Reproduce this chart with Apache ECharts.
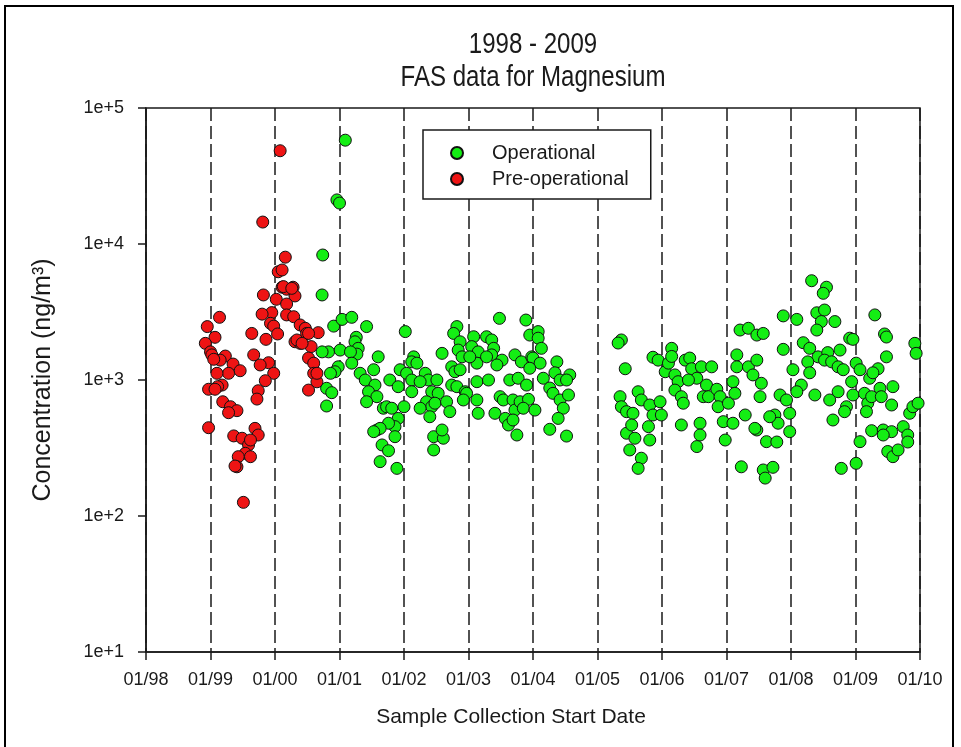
<!DOCTYPE html>
<html>
<head>
<meta charset="utf-8">
<title>FAS data for Magnesium</title>
<script src="https://cdn.jsdelivr.net/npm/echarts@6/dist/echarts.min.js"></script>
<style>
  html, body { margin: 0; padding: 0; background: #fff; }
  #chart { width: 961px; height: 747px; }
</style>
</head>
<body>
<div id="chart"></div>
<script>
// Axis tick labels
const xTickLabels = ['01/98', '01/99', '01/00', '01/01', '01/02', '01/03', '01/04',
                     '01/05', '01/06', '01/07', '01/08', '01/09', '01/10'];
const yTickLabels = ['1e+1', '1e+2', '1e+3', '1e+4', '1e+5'];
const seriesNames = ['Operational', 'Pre-operational'];
const titleLines = ['1998 - 2009', 'FAS data for Magnesium'];

// Pre-operational samples: [decimal year, concentration ng/m3]
const preOperational = [
  [2000.08, 48500], [1999.81, 14500], [2000.16, 8000], [2000.05, 6250], [2000.11, 4810],
  [2000.18, 4650], [2000.28, 4810], [2000.31, 4150], [1999.82, 4220], [2000.02, 3920],
  [2000.18, 3620], [1999.95, 3130], [1999.80, 3050], [2000.18, 3010], [2000.29, 2920],
  [1999.14, 2890], [1998.95, 2470], [1999.93, 2610], [1999.98, 2490], [2000.39, 2540],
  [2000.47, 2400], [2000.49, 2200], [2000.67, 2230], [1999.64, 2200], [2000.04, 2180],
  [1999.07, 2060], [1999.86, 1990], [1998.92, 1860], [2000.31, 1910], [2000.39, 1860],
  [2000.56, 1760], [1999.00, 1610], [1999.02, 1530], [1999.23, 1500], [1999.15, 1400],
  [1999.05, 1420], [1999.67, 1530], [2000.52, 1450], [2000.60, 1330], [1999.35, 1310],
  [1999.46, 1170], [1999.28, 1120], [1999.90, 1340], [1999.77, 1290], [1999.10, 1120],
  [1999.98, 1120], [2000.60, 1120], [2000.65, 970], [1999.85, 988], [1999.18, 918],
  [1999.11, 893], [1998.97, 855], [1999.07, 855], [2000.52, 843], [1999.74, 834],
  [1999.72, 724], [1999.19, 692], [1999.31, 636], [1999.41, 595], [1999.28, 575],
  [1998.97, 446], [1999.69, 441], [1999.74, 394], [1999.36, 388], [1999.49, 373],
  [1999.59, 333], [1999.62, 362], [1999.54, 289], [1999.43, 273], [1999.41, 230],
  [1999.38, 233], [1999.62, 273], [1999.51, 126], [2000.11, 6440], [2000.13, 4860],
  [2000.26, 4720], [2000.34, 1970], [2000.42, 1860], [2000.52, 2200], [2000.65, 1120]
];

// Operational samples: [decimal year, concentration ng/m3]
const operational = [
  [2001.09, 58000], [2000.96, 21100], [2001.00, 20000], [2000.74, 8300], [2000.73, 4220],
  [2000.91, 2490], [2001.04, 2790], [2001.19, 2890], [2001.42, 2470], [2001.26, 2060],
  [2001.24, 1910], [2001.29, 1710], [2001.27, 1550], [2000.83, 1610], [2000.73, 1610],
  [2001.01, 1660], [2001.17, 1610], [2000.98, 1250], [2000.93, 1150], [2000.86, 1120],
  [2001.19, 1330], [2000.80, 869], [2000.88, 807], [2000.80, 644], [2001.32, 1120],
  [2001.40, 1000], [2001.53, 1190], [2001.60, 1480], [2001.55, 918], [2001.45, 820],
  [2001.58, 754], [2001.42, 692], [2001.78, 1000], [2001.91, 893], [2001.68, 620],
  [2001.73, 636], [2001.81, 620], [2002.02, 2270], [2001.94, 1190], [2002.04, 1120],
  [2002.12, 1000], [2002.00, 636], [2001.91, 522], [2001.86, 454], [2001.76, 481],
  [2001.58, 429], [2001.63, 441], [2001.53, 417], [2001.86, 383], [2001.66, 333],
  [2001.76, 302], [2001.63, 251], [2001.89, 224], [2002.15, 1480], [2002.12, 1360],
  [2002.20, 1330], [2002.12, 820], [2002.33, 1120], [2002.38, 1000], [2002.51, 1000],
  [2002.25, 972], [2002.43, 820], [2002.53, 798], [2002.35, 692], [2002.43, 636],
  [2002.48, 675], [2002.66, 692], [2002.71, 585], [2002.40, 537], [2002.25, 620],
  [2002.46, 383], [2002.61, 373], [2002.59, 429], [2002.46, 306], [2002.59, 1570],
  [2002.82, 2470], [2002.77, 2200], [2002.87, 1910], [2002.84, 1660], [2002.90, 1480],
  [2002.74, 1250], [2002.79, 1150], [2002.87, 1190], [2002.74, 918], [2002.82, 893],
  [2002.95, 820], [2002.97, 798], [2003.08, 2080], [2003.05, 1760], [2003.15, 1610],
  [2003.13, 1330], [2003.13, 972], [2003.13, 713], [2003.15, 569], [2002.92, 713],
  [2003.02, 1480], [2003.31, 1000], [2003.28, 2080], [2003.36, 1970], [2003.39, 1710],
  [2003.36, 1530], [2003.28, 1480], [2003.52, 1400], [2003.44, 1290], [2003.48, 2840],
  [2003.41, 569], [2003.49, 754], [2003.54, 713], [2003.57, 522], [2003.62, 467],
  [2003.64, 1000], [2003.77, 1030], [2003.69, 713], [2003.72, 601], [2003.69, 508],
  [2003.75, 394], [2003.72, 1530], [2003.82, 1360], [2003.90, 918], [2003.80, 692],
  [2003.93, 721], [2003.85, 620], [2004.03, 601], [2003.89, 2760], [2003.95, 2140],
  [2004.08, 2270], [2004.08, 2030], [2004.13, 1710], [2003.98, 1480], [2004.00, 1450],
  [2004.11, 1330], [2003.95, 1220], [2004.16, 1030], [2004.26, 873], [2004.31, 798],
  [2004.42, 713], [2004.47, 620], [2004.37, 1360], [2004.34, 1130], [2004.42, 1000],
  [2004.57, 1090], [2004.52, 1000], [2004.55, 776], [2004.39, 522], [2004.26, 434],
  [2004.52, 387],
  [2005.37, 1970], [2005.32, 1870], [2005.43, 1210], [2005.86, 1470], [2005.94, 1400],
  [2005.35, 754], [2005.37, 636], [2005.45, 585], [2005.55, 569], [2005.63, 820],
  [2005.68, 713], [2005.45, 406], [2005.53, 467], [2005.58, 373], [2005.50, 306],
  [2005.68, 266], [2005.63, 224], [2005.81, 655], [2005.86, 553], [2005.79, 454],
  [2005.81, 362], [2005.97, 692], [2005.99, 553], [2006.05, 1150], [2006.10, 1330],
  [2006.15, 1710], [2006.15, 1490], [2006.20, 1090], [2006.25, 972], [2006.20, 843],
  [2006.30, 754], [2006.33, 675], [2006.36, 1400], [2006.43, 1450], [2006.46, 1210],
  [2006.54, 1030], [2006.41, 1000], [2006.61, 1250], [2006.77, 1250], [2006.30, 467],
  [2006.59, 481], [2006.59, 394], [2006.54, 324], [2006.69, 918], [2006.64, 754],
  [2006.72, 754], [2006.85, 855], [2006.90, 754], [2006.87, 636], [2007.03, 675],
  [2006.95, 494], [2006.98, 362], [2007.10, 481], [2007.21, 2330], [2007.34, 2400],
  [2007.47, 2140], [2007.57, 2200], [2007.16, 1530], [2007.16, 1250], [2007.34, 1250],
  [2007.41, 1090], [2007.47, 1400], [2007.10, 972], [2007.13, 798], [2007.54, 946],
  [2007.52, 754], [2007.29, 553], [2007.47, 429], [2007.62, 352], [2007.23, 230],
  [2007.57, 218], [2007.60, 190],
  [2008.32, 5370], [2008.55, 4810], [2008.50, 4340], [2007.88, 2960], [2008.09, 2790],
  [2008.40, 3120], [2008.52, 3270], [2008.47, 2690], [2008.68, 2690], [2008.40, 2330],
  [2007.88, 1680], [2008.19, 1880], [2008.29, 1710], [2008.42, 1480], [2008.57, 1590],
  [2008.76, 1660], [2008.26, 1360], [2008.29, 1130], [2008.03, 1190], [2008.16, 918],
  [2008.52, 1400], [2008.63, 1360], [2008.73, 1250], [2008.81, 1190],
  [2007.83, 776], [2007.93, 713], [2008.09, 820], [2007.98, 569], [2007.75, 553],
  [2007.80, 481], [2007.98, 417], [2007.67, 537], [2007.44, 441], [2007.78, 350],
  [2007.72, 228],
  [2008.37, 776], [2008.60, 713], [2008.73, 820], [2008.86, 636], [2008.83, 585],
  [2008.65, 508], [2008.78, 224], [2008.91, 2030], [2008.96, 1990], [2008.94, 972],
  [2008.96, 776], [2009.01, 1330], [2009.07, 1190], [2009.14, 798], [2009.19, 675],
  [2009.17, 585], [2009.25, 754], [2009.22, 1030], [2009.35, 1210], [2009.27, 1130],
  [2009.07, 352], [2009.01, 244], [2009.30, 3010], [2009.45, 2180], [2009.48, 2070],
  [2009.48, 1480], [2009.38, 869], [2009.40, 754], [2009.58, 893], [2009.56, 655],
  [2009.25, 424], [2009.43, 429], [2009.56, 417], [2009.43, 394], [2009.50, 298],
  [2009.58, 273], [2009.66, 306], [2009.74, 454], [2009.81, 394], [2009.81, 350],
  [2009.84, 569], [2009.89, 636], [2009.97, 675], [2009.92, 1860], [2009.94, 1570]
];

const FONT = '"Liberation Sans", Arial, Helvetica, sans-serif';
const INK = '#1a1a1a';

// Narrow two-line heading: regular face squeezed horizontally about its centre
function titleLine(text, y) {
  return {
    type: 'text',
    silent: true,
    x: 533,
    y: y,
    scaleX: 0.83,
    style: {
      text: text,
      align: 'center',
      verticalAlign: 'middle',
      fontFamily: FONT,
      fontSize: 29,
      fill: INK
    }
  };
}

const chart = echarts.init(document.getElementById('chart'), null, { renderer: 'canvas' });

chart.setOption({
  backgroundColor: '#fff',
  animation: false,
  graphic: [
    {
      type: 'rect',
      silent: true,
      shape: { x: 5, y: 6, width: 948, height: 760 },
      style: { fill: 'none', stroke: '#000', lineWidth: 2 }
    },
    titleLine(titleLines[0], 45),
    titleLine(titleLines[1], 78)
  ],
  legend: {
    data: seriesNames,
    orient: 'vertical',
    left: 423,
    top: 130,
    backgroundColor: '#fff',
    borderColor: INK,
    borderWidth: 1.5,
    borderRadius: 0,
    padding: [13, 22, 10, 27],
    itemWidth: 60,
    itemHeight: 12,
    itemGap: 6,
    icon: 'circle',
    textStyle: { fontFamily: FONT, fontSize: 20, color: INK }
  },
  grid: {
    left: 146,
    top: 108,
    right: 41,
    bottom: 95,
    show: true,
    borderColor: INK,
    borderWidth: 1.5,
    backgroundColor: 'transparent'
  },
  xAxis: {
    type: 'value',
    min: 1998,
    max: 2010,
    interval: 1,
    name: 'Sample Collection Start Date',
    nameLocation: 'middle',
    nameGap: 55,
    nameTextStyle: { fontFamily: FONT, fontSize: 21, color: INK, padding: [0, 44, 0, 0] },
    axisLine: { lineStyle: { color: INK, width: 1.5 } },
    axisTick: { length: 8, lineStyle: { color: INK, width: 1.5 } },
    axisLabel: {
      margin: 19,
      fontFamily: FONT,
      fontSize: 18,
      color: INK,
      formatter: v => xTickLabels[Math.round(v - 1998)]
    },
    splitLine: { show: true, lineStyle: { type: [13, 5], color: INK, width: 1.5 } }
  },
  yAxis: {
    type: 'log',
    logBase: 10,
    min: 10,
    max: 100000,
    name: 'Concentration (ng/m³)',
    nameLocation: 'middle',
    nameGap: 90,
    nameRotate: 90,
    nameTextStyle: { fontFamily: FONT, fontSize: 25, color: INK },
    axisLine: { lineStyle: { color: INK, width: 1.5 } },
    axisTick: { length: 8, lineStyle: { color: INK, width: 1.5 } },
    minorTick: { show: false },
    axisLabel: {
      margin: 22,
      fontFamily: FONT,
      fontSize: 18,
      color: INK,
      formatter: v => yTickLabels[Math.round(Math.log10(v)) - 1]
    },
    splitLine: { show: false }
  },
  series: [
    {
      name: seriesNames[0],
      type: 'scatter',
      data: operational,
      symbol: 'circle',
      symbolSize: 12,
      itemStyle: { color: '#14ee14', borderColor: '#111', borderWidth: 1, opacity: 1 }
    },
    {
      name: seriesNames[1],
      type: 'scatter',
      data: preOperational,
      symbol: 'circle',
      symbolSize: 12,
      itemStyle: { color: '#ee1414', borderColor: '#111', borderWidth: 1, opacity: 1 }
    }
  ]
});
</script>
</body>
</html>
